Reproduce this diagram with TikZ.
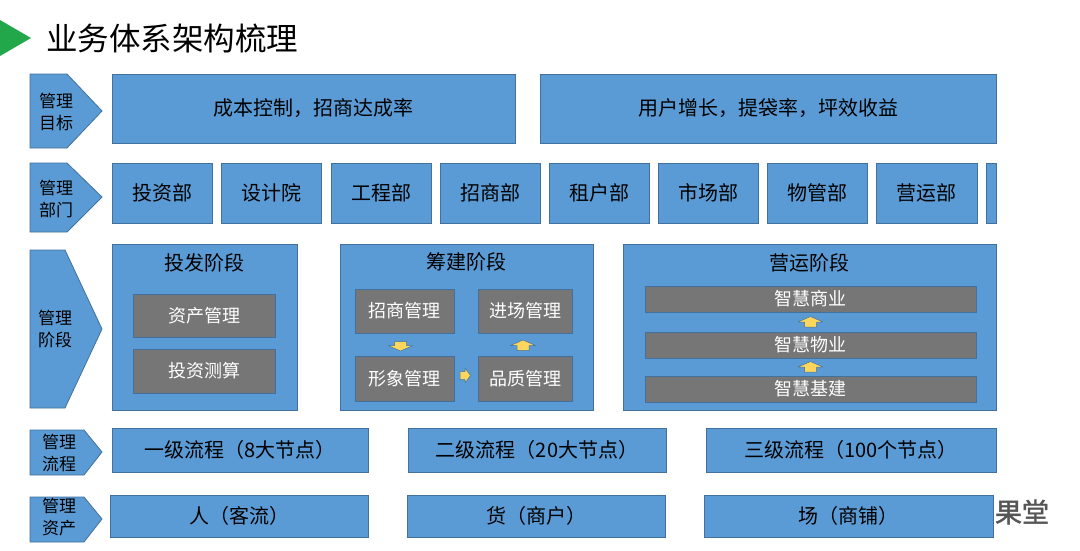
\documentclass[tikz,border=0pt]{standalone}
\usepackage{fontspec}
\setmainfont{Noto Sans CJK SC}
\newfontfamily\wmfont[FakeBold=1.5]{Noto Sans CJK SC}
\usetikzlibrary{calc}
\definecolor{bfill}{RGB}{91,155,213}
\definecolor{bline}{RGB}{65,113,156}
\definecolor{gfill}{RGB}{118,118,118}
\definecolor{yfill}{RGB}{255,214,92}
\definecolor{tgreen}{RGB}{34,168,74}
\definecolor{wmgray}{RGB}{85,85,85}
\newcommand{\rbox}[7]{\node[#1,minimum width={#5-#3},minimum height={#6-#4}] (#2) at ({(#3+#5)/2},{(#4+#6)/2}) {#7};}
\tikzset{
  bluebox/.style={draw=bline, fill=bfill, line width=0.8pt, inner sep=0pt, outer sep=0pt, font=\fontsize{20}{24}\selectfont, text=black},
  greybox/.style={draw=bline, fill=gfill, line width=0.6pt, inner sep=0pt, outer sep=0pt, font=\fontsize{18}{22}\selectfont, text=white},
  chev/.style={draw=bline, fill=bfill, line width=0.8pt},
  chevtxt/.style={align=center, font=\fontsize{17}{22}\selectfont, inner sep=0pt, text=black},
  stagetitle/.style={font=\fontsize{20}{24}\selectfont, inner sep=0pt, text=black},
  yarr/.style={draw=bline, fill=yfill, line width=0.5pt, line join=round},
}
\begin{document}
\begin{tikzpicture}[x=1pt,y=-1pt]
\useasboundingbox[fill=white] (0,0) rectangle (1080,550);
% title
\fill[tgreen] (0,20) -- (31,38) -- (0,56) -- cycle;
\node[anchor=west, inner sep=0pt, font=\fontsize{31.5}{35}\selectfont] (title) at (46,38) {业务体系架构梳理};
% chevrons
\draw[chev] (30,74) -- (67,74) -- (102,111) -- (67,148) -- (30,148) -- cycle;
\node[chevtxt] (l1) at (56,112) {管理\\目标};
\draw[chev] (30,163) -- (67,163) -- (102,197) -- (67,232) -- (30,232) -- cycle;
\node[chevtxt] (l2) at (56,199) {管理\\部门};
\draw[chev] (30,250) -- (65,250) -- (102,329) -- (65,408) -- (30,408) -- cycle;
\node[chevtxt] (l3) at (55,329) {管理\\阶段};
\draw[chev] (30,430) -- (84,430) -- (102,452) -- (84,475) -- (30,475) -- cycle;
\node[chevtxt] (l4) at (59,453) {管理\\流程};
\draw[chev] (30,497) -- (84,497) -- (102,519) -- (84,542) -- (30,542) -- cycle;
\node[chevtxt] (l5) at (59,517) {管理\\资产};
% row 1
\rbox{bluebox}{g1}{112}{74}{515}{143}{成本控制，招商达成率}
\rbox{bluebox}{g2}{540}{74}{996}{143}{用户增长，提袋率，坪效收益}
% row 2
\rbox{bluebox}{d1}{112}{163}{212}{223}{投资部}
\rbox{bluebox}{d2}{221}{163}{321}{223}{设计院}
\rbox{bluebox}{d3}{331}{163}{431}{223}{工程部}
\rbox{bluebox}{d4}{440}{163}{540}{223}{招商部}
\rbox{bluebox}{d5}{549}{163}{649}{223}{租户部}
\rbox{bluebox}{d6}{658}{163}{758}{223}{市场部}
\rbox{bluebox}{d7}{767}{163}{867}{223}{物管部}
\rbox{bluebox}{d8}{876}{163}{977}{223}{营运部}
\rbox{bluebox}{d9}{986}{163}{996}{223}{}
% row 3 stages
\rbox{bluebox}{s1}{112}{244}{297}{410}{}
\node[stagetitle] (s1t) at (204.5,263) {投发阶段};
\rbox{greybox}{a1}{133}{294}{275}{337}{资产管理}
\rbox{greybox}{a2}{133}{349}{275}{393}{投资测算}
\rbox{bluebox}{s2}{340}{244}{593}{410}{}
\node[stagetitle] (s2t) at (466,262) {筹建阶段};
\rbox{greybox}{b1}{355}{289}{454}{333}{招商管理}
\rbox{greybox}{b2}{478}{289}{572}{333}{进场管理}
\rbox{greybox}{b3}{355}{356}{454}{401}{形象管理}
\rbox{greybox}{b4}{478}{356}{572}{401}{品质管理}
\rbox{bluebox}{s3}{623}{244}{996}{410}{}
\node[stagetitle] (s3t) at (809,263) {营运阶段};
\rbox{greybox}{c1}{645}{286}{976}{312}{智慧商业}
\rbox{greybox}{c2}{645}{332}{976}{358}{智慧物业}
\rbox{greybox}{c3}{645}{376}{976}{402}{智慧基建}
% yellow block arrows
\draw[yarr, shift={($(b1.south)!0.5!(b3.north)+(-4,2)$)}] (-6,-5) -- (6,-5) -- (6,-1) -- (12.5,-1) -- (0,4.5) -- (-12.5,-1) -- (-6,-1) -- cycle;
\draw[yarr, shift={($(b3.east)!0.5!(b4.west)+(-1,-3)$)}] (-5,-4) -- (0,-4) -- (0,-7.5) -- (5.5,0) -- (0,7.5) -- (0,4) -- (-5,4) -- cycle;
\draw[yarr, shift={($(b4.north)!0.5!(b2.south)+(-2,1)$)}] (-6,5) -- (6,5) -- (6,0) -- (12.5,0) -- (0,-5.5) -- (-12.5,0) -- (-6,0) -- cycle;
\draw[yarr, shift={($(c3.north)!0.5!(c2.south)$)}] (-6,5) -- (6,5) -- (6,0) -- (12.5,0) -- (0,-5.5) -- (-12.5,0) -- (-6,0) -- cycle;
\draw[yarr, shift={($(c2.north)!0.5!(c1.south)$)}] (-6,5) -- (6,5) -- (6,0) -- (12.5,0) -- (0,-5.5) -- (-12.5,0) -- (-6,0) -- cycle;
% row 4
\rbox{bluebox}{f1}{112}{428}{368}{472}{一级流程（8大节点）}
\rbox{bluebox}{f2}{408}{428}{666}{472}{二级流程（20大节点）}
\rbox{bluebox}{f3}{706}{428}{996}{472}{三级流程（100个节点）}
% row 5
\rbox{bluebox}{h1}{110}{495}{368}{537}{人（客流）}
\rbox{bluebox}{h2}{407}{495}{665}{537}{货（商户）}
\rbox{bluebox}{h3}{704}{495}{993}{537}{场（商铺）}
% watermark fragment
\node[inner sep=0pt, text=wmgray, font=\wmfont\fontsize{27}{30}\selectfont] (wm) at (1022,512) {果堂};
\end{tikzpicture}
\end{document}
